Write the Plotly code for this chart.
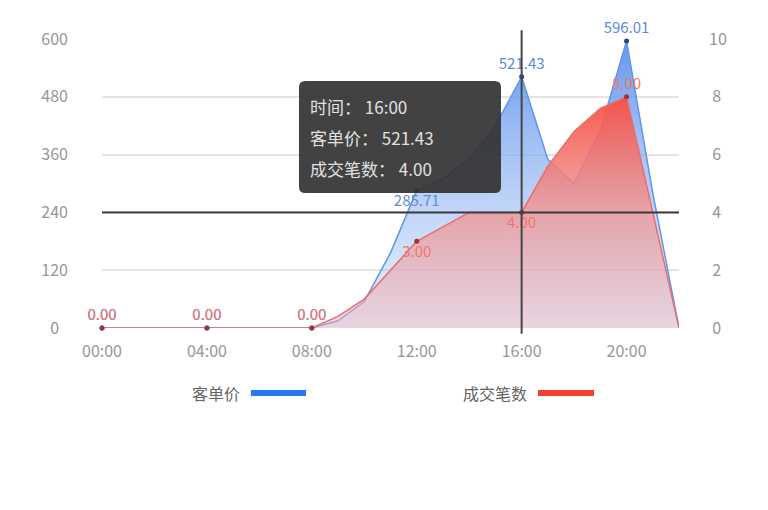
import plotly.graph_objects as go

hours = ["%02d:00" % h for h in range(23)]
price = [0, 0, 0, 0, 0, 0, 0, 0, 0, 15, 55, 156, 285.71, 310, 350, 420,
         521.43, 350, 300, 410, 596.01, 280, 0]
count = [0, 0, 0, 0, 0, 0, 0, 0, 0, 0.4, 1, 2, 3, 3.5, 4, 4,
         4, 5.6, 6.8, 7.6, 8, 4, 0]
tick_hours = ["00:00", "04:00", "08:00", "12:00", "16:00", "20:00"]
left_ticks = [0, 120, 240, 360, 480, 600]
right_ticks = [0, 2, 4, 6, 8, 10]

# points that carry a marker + label
shown = [0, 4, 8, 12, 16, 20]
price_label_pos = ["top center"] * 3 + ["bottom center", "top center", "top center"]
count_label_pos = ["top center"] * 3 + ["bottom center", "bottom center", "top center"]

# hovered point drawn as a fixed tooltip
hover_i = 16
cross_y = 240

font = "Noto Sans CJK SC, Noto Sans, sans-serif"

# tick labels look centred in the reference, pad short ones
left_text = [str(v) + "\u2007" * ((3 - len(str(v))) // 2) for v in left_ticks]
right_text = [("\u2009" if len(str(v)) == 1 else "") + str(v) for v in right_ticks]

fig = go.Figure()

fig.add_trace(go.Scatter(
    x=hours, y=price, mode="lines", name="客单价",
    line=dict(color="rgb(95,150,232)", width=1.5),
    fill="tozeroy",
    fillgradient=dict(type="vertical", colorscale=[
        [0, "rgba(190,212,248,0.35)"], [1, "rgba(85,140,235,0.9)"]]),
    hoverinfo="skip", showlegend=False,
))
fig.add_trace(go.Scatter(
    x=hours, y=count, mode="lines", name="成交笔数", yaxis="y2",
    line=dict(color="rgb(232,110,110)", width=1.5),
    fill="tozeroy",
    fillgradient=dict(type="vertical", colorscale=[
        [0, "rgba(232,180,188,0.45)"], [0.5, "rgba(240,150,150,0.8)"],
        [1, "rgba(248,80,65,0.95)"]]),
    hoverinfo="skip", showlegend=False,
))
fig.add_trace(go.Scatter(
    x=[hours[i] for i in shown], y=[price[i] for i in shown],
    mode="markers+text", texttemplate="%{y:.2f}",
    textposition=price_label_pos, cliponaxis=False,
    textfont=dict(color="rgb(90,140,220)", size=15, family=font),
    marker=dict(color="rgb(40,70,130)", size=5),
    hoverinfo="skip", showlegend=False,
))
fig.add_trace(go.Scatter(
    x=[hours[i] for i in shown], y=[count[i] for i in shown], yaxis="y2",
    mode="markers+text", texttemplate="%{y:.2f}",
    textposition=count_label_pos, cliponaxis=False,
    textfont=dict(color="rgb(235,120,110)", size=15, family=font),
    marker=dict(color="rgb(160,50,60)", size=5),
    hoverinfo="skip", showlegend=False,
))

# crosshair
fig.add_shape(type="line", xref="paper", yref="y", x0=0, x1=1,
              y0=cross_y, y1=cross_y, line=dict(color="rgb(60,60,60)", width=2))
fig.add_shape(type="line", xref="x", yref="paper", x0=hours[hover_i],
              x1=hours[hover_i], y0=-0.02, y1=1.03,
              line=dict(color="rgb(70,70,70)", width=2))

# tooltip box (rounded)
x0, x1, y0, y1 = 0.3414, 0.6915, 0.4671, 0.8547
rx, ry = 0.011, 0.022
path = (f"M {x0+rx},{y0} L {x1-rx},{y0} Q {x1},{y0} {x1},{y0+ry} "
        f"L {x1},{y1-ry} Q {x1},{y1} {x1-rx},{y1} L {x0+rx},{y1} "
        f"Q {x0},{y1} {x0},{y1-ry} L {x0},{y0+ry} Q {x0},{y0} {x0+rx},{y0} Z")
fig.add_shape(type="path", xref="paper", yref="paper", path=path,
              fillcolor="rgba(50,50,50,0.92)", line=dict(width=0))
tip_lines = [
    "时间： %s" % hours[hover_i],
    "客单价： %.2f" % price[hover_i],
    "成交笔数： %.2f" % count[hover_i],
]
for k, t in enumerate(tip_lines):
    fig.add_annotation(xref="paper", yref="paper", x=0.357, y=0.765 - k * 0.107,
                       text=t, showarrow=False, xanchor="left", yanchor="middle",
                       font=dict(color="rgb(225,225,225)", size=17, family=font))

# legend drawn by hand: text then line sample
legend = [("客单价", "rgb(40,120,240)", 0.2426, 0.258, 0.3536),
          ("成交笔数", "rgb(240,65,50)", 0.7400, 0.7556, 0.8527)]
for name, col, tx, lx0, lx1 in legend:
    fig.add_annotation(xref="paper", yref="paper", x=tx, y=-0.225, text=name,
                       showarrow=False, xanchor="right", yanchor="middle",
                       font=dict(color="rgb(100,100,100)", size=16, family=font))
    fig.add_shape(type="line", xref="paper", yref="paper", x0=lx0, x1=lx1,
                  y0=-0.225, y1=-0.225, line=dict(color=col, width=6))

# axis names, mostly cut off at the top edge as in the reference
fig.add_annotation(xref="paper", yref="paper", x=-0.14, y=1.112, text="客单价（元）",
                   showarrow=False, xanchor="center", yanchor="bottom",
                   font=dict(color="rgb(150,150,150)", size=15, family=font))
fig.add_annotation(xref="paper", yref="paper", x=1.12, y=1.112, text="成交笔数（笔）",
                   showarrow=False, xanchor="center", yanchor="bottom",
                   font=dict(color="rgb(150,150,150)", size=15, family=font))

# the page body adds ~7px offset, so margins are shifted to compensate
fig.update_layout(
    width=768, height=510,
    margin=dict(l=94, r=97, t=31, b=190),
    paper_bgcolor="white", plot_bgcolor="white",
    font=dict(family=font, color="rgb(150,150,150)", size=16),
    xaxis=dict(type="category", range=[0, 22], tickvals=tick_hours,
               showgrid=False, zeroline=False, showline=False, ticks="",
               ticklabelstandoff=12, tickfont=dict(size=16)),
    yaxis=dict(range=[0, 600], tickvals=left_ticks, ticktext=left_text,
               showgrid=True, gridcolor="rgb(228,228,228)", gridwidth=1.5,
               zeroline=False, showline=False, ticks="", ticklabelstandoff=33,
               tickfont=dict(size=16)),
    yaxis2=dict(range=[0, 10], tickvals=right_ticks, ticktext=right_text,
                overlaying="y", side="right", showgrid=False, zeroline=False,
                showline=False, ticks="", ticklabelstandoff=29,
                tickfont=dict(size=16)),
    hovermode=False,
)

fig.write_html("out.html")
